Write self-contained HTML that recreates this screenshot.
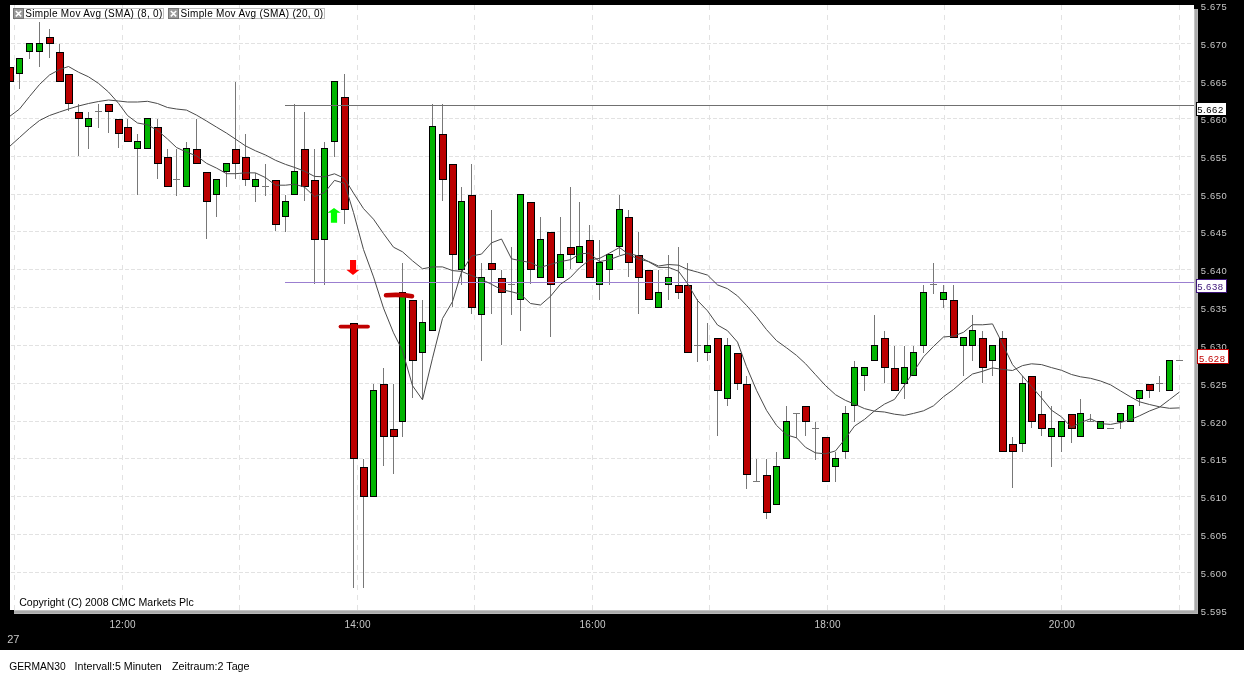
<!DOCTYPE html>
<html><head><meta charset="utf-8"><style>
html,body{margin:0;padding:0;background:#fff;width:1244px;height:675px;overflow:hidden}
svg{display:block;will-change:transform}
text{font-family:"Liberation Sans",sans-serif}
</style></head><body>
<svg width="1244" height="675" viewBox="0 0 1244 675">
<defs><clipPath id="cl"><rect x="10" y="5" width="1184" height="605"/></clipPath></defs>
<rect x="0" y="0" width="1244" height="650" fill="#000"/>
<g shape-rendering="crispEdges">
<rect x="1194" y="9" width="4" height="605" fill="#aaaaaa"/>
<rect x="14" y="610" width="1184" height="4" fill="#aaaaaa"/>
<rect x="1194" y="9" width="1" height="601" fill="#c4c4c4"/>
<rect x="14" y="610" width="1180" height="1" fill="#c4c4c4"/>
<rect x="1197" y="9" width="1" height="605" fill="#b8b8b8"/>
<rect x="14" y="613" width="1184" height="1" fill="#b8b8b8"/>
</g>
<rect x="10" y="5" width="1184" height="605" fill="#fff"/>
<g stroke="#e2e2e2" stroke-width="1" stroke-dasharray="4 2" shape-rendering="crispEdges"><line x1="11" y1="43.5" x2="1192" y2="43.5"/><line x1="11" y1="81.5" x2="1192" y2="81.5"/><line x1="11" y1="118.5" x2="1192" y2="118.5"/><line x1="11" y1="156.5" x2="1192" y2="156.5"/><line x1="11" y1="194.5" x2="1192" y2="194.5"/><line x1="11" y1="231.5" x2="1192" y2="231.5"/><line x1="11" y1="269.5" x2="1192" y2="269.5"/><line x1="11" y1="307.5" x2="1192" y2="307.5"/><line x1="11" y1="345.5" x2="1192" y2="345.5"/><line x1="11" y1="383.5" x2="1192" y2="383.5"/><line x1="11" y1="421.5" x2="1192" y2="421.5"/><line x1="11" y1="458.5" x2="1192" y2="458.5"/><line x1="11" y1="496.5" x2="1192" y2="496.5"/><line x1="11" y1="534.5" x2="1192" y2="534.5"/><line x1="11" y1="572.5" x2="1192" y2="572.5"/></g><g stroke="#e2e2e2" stroke-width="1" stroke-dasharray="5 5" shape-rendering="crispEdges"><line x1="14.5" y1="5" x2="14.5" y2="610"/><line x1="122.5" y1="5" x2="122.5" y2="610"/><line x1="239.5" y1="5" x2="239.5" y2="610"/><line x1="357.5" y1="5" x2="357.5" y2="610"/><line x1="474.5" y1="5" x2="474.5" y2="610"/><line x1="592.5" y1="5" x2="592.5" y2="610"/><line x1="709.5" y1="5" x2="709.5" y2="610"/><line x1="827.5" y1="5" x2="827.5" y2="610"/><line x1="944.5" y1="5" x2="944.5" y2="610"/><line x1="1061.5" y1="5" x2="1061.5" y2="610"/><line x1="1179.5" y1="5" x2="1179.5" y2="610"/></g><g shape-rendering="crispEdges" clip-path="url(#cl)"><rect x="6" y="67" width="8" height="15" fill="#000"/><rect x="7" y="68" width="6" height="13" fill="#bb0000"/><rect x="19" y="74" width="1" height="15" fill="#787878"/><rect x="16" y="58" width="7" height="16" fill="#000"/><rect x="17" y="59" width="5" height="14" fill="#00b400"/><rect x="29" y="52" width="1" height="7" fill="#787878"/><rect x="26" y="43" width="7" height="9" fill="#000"/><rect x="27" y="44" width="5" height="7" fill="#00b400"/><rect x="39" y="22" width="1" height="21" fill="#787878"/><rect x="39" y="52" width="1" height="15" fill="#787878"/><rect x="36" y="43" width="7" height="9" fill="#000"/><rect x="37" y="44" width="5" height="7" fill="#00b400"/><rect x="49" y="29" width="1" height="8" fill="#787878"/><rect x="49" y="44" width="1" height="14" fill="#787878"/><rect x="46" y="37" width="8" height="7" fill="#000"/><rect x="47" y="38" width="6" height="5" fill="#bb0000"/><rect x="59" y="44" width="1" height="8" fill="#787878"/><rect x="56" y="52" width="8" height="30" fill="#000"/><rect x="57" y="53" width="6" height="28" fill="#bb0000"/><rect x="68" y="104" width="1" height="7" fill="#787878"/><rect x="65" y="74" width="8" height="30" fill="#000"/><rect x="66" y="75" width="6" height="28" fill="#bb0000"/><rect x="78" y="104" width="1" height="8" fill="#787878"/><rect x="78" y="119" width="1" height="37" fill="#787878"/><rect x="75" y="112" width="8" height="7" fill="#000"/><rect x="76" y="113" width="6" height="5" fill="#bb0000"/><rect x="88" y="112" width="1" height="6" fill="#787878"/><rect x="88" y="127" width="1" height="22" fill="#787878"/><rect x="85" y="118" width="7" height="9" fill="#000"/><rect x="86" y="119" width="5" height="7" fill="#00b400"/><rect x="98" y="104" width="1" height="24" fill="#787878"/><rect x="95" y="111" width="7" height="1" fill="#787878"/><rect x="108" y="112" width="1" height="21" fill="#787878"/><rect x="105" y="104" width="8" height="8" fill="#000"/><rect x="106" y="105" width="6" height="6" fill="#bb0000"/><rect x="118" y="134" width="1" height="14" fill="#787878"/><rect x="115" y="119" width="8" height="15" fill="#000"/><rect x="116" y="120" width="6" height="13" fill="#bb0000"/><rect x="127" y="119" width="1" height="8" fill="#787878"/><rect x="124" y="127" width="8" height="15" fill="#000"/><rect x="125" y="128" width="6" height="13" fill="#bb0000"/><rect x="137" y="134" width="1" height="7" fill="#787878"/><rect x="137" y="149" width="1" height="46" fill="#787878"/><rect x="134" y="141" width="7" height="8" fill="#000"/><rect x="135" y="142" width="5" height="6" fill="#00b400"/><rect x="144" y="118" width="7" height="31" fill="#000"/><rect x="145" y="119" width="5" height="29" fill="#00b400"/><rect x="157" y="119" width="1" height="8" fill="#787878"/><rect x="157" y="164" width="1" height="15" fill="#787878"/><rect x="154" y="127" width="8" height="37" fill="#000"/><rect x="155" y="128" width="6" height="35" fill="#bb0000"/><rect x="167" y="149" width="1" height="8" fill="#787878"/><rect x="164" y="157" width="8" height="30" fill="#000"/><rect x="165" y="158" width="6" height="28" fill="#bb0000"/><rect x="176" y="149" width="1" height="47" fill="#787878"/><rect x="173" y="179" width="7" height="1" fill="#787878"/><rect x="186" y="142" width="1" height="6" fill="#787878"/><rect x="183" y="148" width="7" height="39" fill="#000"/><rect x="184" y="149" width="5" height="37" fill="#00b400"/><rect x="196" y="119" width="1" height="30" fill="#787878"/><rect x="193" y="149" width="8" height="15" fill="#000"/><rect x="194" y="150" width="6" height="13" fill="#bb0000"/><rect x="206" y="202" width="1" height="37" fill="#787878"/><rect x="203" y="172" width="8" height="30" fill="#000"/><rect x="204" y="173" width="6" height="28" fill="#bb0000"/><rect x="216" y="195" width="1" height="22" fill="#787878"/><rect x="213" y="179" width="7" height="16" fill="#000"/><rect x="214" y="180" width="5" height="14" fill="#00b400"/><rect x="226" y="172" width="1" height="15" fill="#787878"/><rect x="223" y="163" width="7" height="9" fill="#000"/><rect x="224" y="164" width="5" height="7" fill="#00b400"/><rect x="235" y="82" width="1" height="67" fill="#787878"/><rect x="235" y="164" width="1" height="15" fill="#787878"/><rect x="232" y="149" width="8" height="15" fill="#000"/><rect x="233" y="150" width="6" height="13" fill="#bb0000"/><rect x="245" y="134" width="1" height="23" fill="#787878"/><rect x="245" y="180" width="1" height="6" fill="#787878"/><rect x="242" y="157" width="8" height="23" fill="#000"/><rect x="243" y="158" width="6" height="21" fill="#bb0000"/><rect x="255" y="173" width="1" height="6" fill="#787878"/><rect x="255" y="187" width="1" height="15" fill="#787878"/><rect x="252" y="179" width="7" height="8" fill="#000"/><rect x="253" y="180" width="5" height="6" fill="#00b400"/><rect x="265" y="164" width="1" height="32" fill="#787878"/><rect x="262" y="186" width="7" height="1" fill="#787878"/><rect x="275" y="225" width="1" height="6" fill="#787878"/><rect x="272" y="180" width="8" height="45" fill="#000"/><rect x="273" y="181" width="6" height="43" fill="#bb0000"/><rect x="285" y="195" width="1" height="6" fill="#787878"/><rect x="285" y="217" width="1" height="15" fill="#787878"/><rect x="282" y="201" width="7" height="16" fill="#000"/><rect x="283" y="202" width="5" height="14" fill="#00b400"/><rect x="294" y="104" width="1" height="67" fill="#787878"/><rect x="291" y="171" width="7" height="24" fill="#000"/><rect x="292" y="172" width="5" height="22" fill="#00b400"/><rect x="304" y="112" width="1" height="37" fill="#787878"/><rect x="304" y="187" width="1" height="14" fill="#787878"/><rect x="301" y="149" width="8" height="38" fill="#000"/><rect x="302" y="150" width="6" height="36" fill="#bb0000"/><rect x="314" y="149" width="1" height="31" fill="#787878"/><rect x="314" y="240" width="1" height="44" fill="#787878"/><rect x="311" y="180" width="8" height="60" fill="#000"/><rect x="312" y="181" width="6" height="58" fill="#bb0000"/><rect x="324" y="142" width="1" height="6" fill="#787878"/><rect x="324" y="240" width="1" height="45" fill="#787878"/><rect x="321" y="148" width="7" height="92" fill="#000"/><rect x="322" y="149" width="5" height="90" fill="#00b400"/><rect x="334" y="142" width="1" height="15" fill="#787878"/><rect x="331" y="81" width="7" height="61" fill="#000"/><rect x="332" y="82" width="5" height="59" fill="#00b400"/><rect x="344" y="74" width="1" height="23" fill="#787878"/><rect x="344" y="210" width="1" height="14" fill="#787878"/><rect x="341" y="97" width="8" height="113" fill="#000"/><rect x="342" y="98" width="6" height="111" fill="#bb0000"/><rect x="353" y="459" width="1" height="129" fill="#787878"/><rect x="350" y="323" width="8" height="136" fill="#000"/><rect x="351" y="324" width="6" height="134" fill="#bb0000"/><rect x="363" y="459" width="1" height="8" fill="#787878"/><rect x="363" y="497" width="1" height="91" fill="#787878"/><rect x="360" y="467" width="8" height="30" fill="#000"/><rect x="361" y="468" width="6" height="28" fill="#bb0000"/><rect x="373" y="384" width="1" height="6" fill="#787878"/><rect x="370" y="390" width="7" height="107" fill="#000"/><rect x="371" y="391" width="5" height="105" fill="#00b400"/><rect x="383" y="368" width="1" height="16" fill="#787878"/><rect x="383" y="437" width="1" height="29" fill="#787878"/><rect x="380" y="384" width="8" height="53" fill="#000"/><rect x="381" y="385" width="6" height="51" fill="#bb0000"/><rect x="393" y="384" width="1" height="45" fill="#787878"/><rect x="393" y="437" width="1" height="37" fill="#787878"/><rect x="390" y="429" width="8" height="8" fill="#000"/><rect x="391" y="430" width="6" height="6" fill="#bb0000"/><rect x="402" y="263" width="1" height="29" fill="#787878"/><rect x="402" y="422" width="1" height="15" fill="#787878"/><rect x="399" y="292" width="7" height="130" fill="#000"/><rect x="400" y="293" width="5" height="128" fill="#00b400"/><rect x="412" y="361" width="1" height="37" fill="#787878"/><rect x="409" y="300" width="8" height="61" fill="#000"/><rect x="410" y="301" width="6" height="59" fill="#bb0000"/><rect x="422" y="300" width="1" height="22" fill="#787878"/><rect x="422" y="353" width="1" height="46" fill="#787878"/><rect x="419" y="322" width="7" height="31" fill="#000"/><rect x="420" y="323" width="5" height="29" fill="#00b400"/><rect x="432" y="104" width="1" height="22" fill="#787878"/><rect x="429" y="126" width="7" height="205" fill="#000"/><rect x="430" y="127" width="5" height="203" fill="#00b400"/><rect x="442" y="104" width="1" height="30" fill="#787878"/><rect x="442" y="180" width="1" height="21" fill="#787878"/><rect x="439" y="134" width="8" height="46" fill="#000"/><rect x="440" y="135" width="6" height="44" fill="#bb0000"/><rect x="452" y="255" width="1" height="52" fill="#787878"/><rect x="449" y="164" width="8" height="91" fill="#000"/><rect x="450" y="165" width="6" height="89" fill="#bb0000"/><rect x="461" y="187" width="1" height="14" fill="#787878"/><rect x="461" y="270" width="1" height="15" fill="#787878"/><rect x="458" y="201" width="7" height="69" fill="#000"/><rect x="459" y="202" width="5" height="67" fill="#00b400"/><rect x="471" y="164" width="1" height="31" fill="#787878"/><rect x="471" y="308" width="1" height="6" fill="#787878"/><rect x="468" y="195" width="8" height="113" fill="#000"/><rect x="469" y="196" width="6" height="111" fill="#bb0000"/><rect x="481" y="263" width="1" height="14" fill="#787878"/><rect x="481" y="315" width="1" height="46" fill="#787878"/><rect x="478" y="277" width="7" height="38" fill="#000"/><rect x="479" y="278" width="5" height="36" fill="#00b400"/><rect x="491" y="210" width="1" height="53" fill="#787878"/><rect x="491" y="270" width="1" height="44" fill="#787878"/><rect x="488" y="263" width="8" height="7" fill="#000"/><rect x="489" y="264" width="6" height="5" fill="#bb0000"/><rect x="501" y="270" width="1" height="8" fill="#787878"/><rect x="501" y="293" width="1" height="52" fill="#787878"/><rect x="498" y="278" width="8" height="15" fill="#000"/><rect x="499" y="279" width="6" height="13" fill="#bb0000"/><rect x="511" y="247" width="1" height="68" fill="#787878"/><rect x="508" y="284" width="7" height="1" fill="#787878"/><rect x="520" y="300" width="1" height="31" fill="#787878"/><rect x="517" y="194" width="7" height="106" fill="#000"/><rect x="518" y="195" width="5" height="104" fill="#00b400"/><rect x="530" y="270" width="1" height="14" fill="#787878"/><rect x="527" y="202" width="8" height="68" fill="#000"/><rect x="528" y="203" width="6" height="66" fill="#bb0000"/><rect x="540" y="217" width="1" height="22" fill="#787878"/><rect x="537" y="239" width="7" height="39" fill="#000"/><rect x="538" y="240" width="5" height="37" fill="#00b400"/><rect x="550" y="285" width="1" height="52" fill="#787878"/><rect x="547" y="232" width="8" height="53" fill="#000"/><rect x="548" y="233" width="6" height="51" fill="#bb0000"/><rect x="560" y="217" width="1" height="37" fill="#787878"/><rect x="557" y="254" width="7" height="24" fill="#000"/><rect x="558" y="255" width="5" height="22" fill="#00b400"/><rect x="570" y="187" width="1" height="60" fill="#787878"/><rect x="570" y="255" width="1" height="14" fill="#787878"/><rect x="567" y="247" width="8" height="8" fill="#000"/><rect x="568" y="248" width="6" height="6" fill="#bb0000"/><rect x="579" y="202" width="1" height="44" fill="#787878"/><rect x="576" y="246" width="7" height="17" fill="#000"/><rect x="577" y="247" width="5" height="15" fill="#00b400"/><rect x="589" y="225" width="1" height="15" fill="#787878"/><rect x="586" y="240" width="8" height="38" fill="#000"/><rect x="587" y="241" width="6" height="36" fill="#bb0000"/><rect x="599" y="240" width="1" height="22" fill="#787878"/><rect x="599" y="285" width="1" height="15" fill="#787878"/><rect x="596" y="262" width="7" height="23" fill="#000"/><rect x="597" y="263" width="5" height="21" fill="#00b400"/><rect x="609" y="270" width="1" height="15" fill="#787878"/><rect x="606" y="254" width="7" height="16" fill="#000"/><rect x="607" y="255" width="5" height="14" fill="#00b400"/><rect x="619" y="195" width="1" height="14" fill="#787878"/><rect x="619" y="247" width="1" height="8" fill="#787878"/><rect x="616" y="209" width="7" height="38" fill="#000"/><rect x="617" y="210" width="5" height="36" fill="#00b400"/><rect x="628" y="210" width="1" height="7" fill="#787878"/><rect x="628" y="263" width="1" height="14" fill="#787878"/><rect x="625" y="217" width="8" height="46" fill="#000"/><rect x="626" y="218" width="6" height="44" fill="#bb0000"/><rect x="638" y="232" width="1" height="23" fill="#787878"/><rect x="638" y="278" width="1" height="36" fill="#787878"/><rect x="635" y="255" width="8" height="23" fill="#000"/><rect x="636" y="256" width="6" height="21" fill="#bb0000"/><rect x="645" y="270" width="8" height="30" fill="#000"/><rect x="646" y="271" width="6" height="28" fill="#bb0000"/><rect x="658" y="270" width="1" height="22" fill="#787878"/><rect x="655" y="292" width="7" height="16" fill="#000"/><rect x="656" y="293" width="5" height="14" fill="#00b400"/><rect x="668" y="255" width="1" height="22" fill="#787878"/><rect x="668" y="285" width="1" height="15" fill="#787878"/><rect x="665" y="277" width="7" height="8" fill="#000"/><rect x="666" y="278" width="5" height="6" fill="#00b400"/><rect x="678" y="247" width="1" height="38" fill="#787878"/><rect x="678" y="293" width="1" height="6" fill="#787878"/><rect x="675" y="285" width="8" height="8" fill="#000"/><rect x="676" y="286" width="6" height="6" fill="#bb0000"/><rect x="687" y="263" width="1" height="22" fill="#787878"/><rect x="684" y="285" width="8" height="68" fill="#000"/><rect x="685" y="286" width="6" height="66" fill="#bb0000"/><rect x="697" y="299" width="1" height="63" fill="#787878"/><rect x="694" y="345" width="7" height="1" fill="#787878"/><rect x="707" y="323" width="1" height="22" fill="#787878"/><rect x="707" y="353" width="1" height="8" fill="#787878"/><rect x="704" y="345" width="7" height="8" fill="#000"/><rect x="705" y="346" width="5" height="6" fill="#00b400"/><rect x="717" y="391" width="1" height="45" fill="#787878"/><rect x="714" y="338" width="8" height="53" fill="#000"/><rect x="715" y="339" width="6" height="51" fill="#bb0000"/><rect x="727" y="338" width="1" height="7" fill="#787878"/><rect x="727" y="399" width="1" height="7" fill="#787878"/><rect x="724" y="345" width="7" height="54" fill="#000"/><rect x="725" y="346" width="5" height="52" fill="#00b400"/><rect x="737" y="384" width="1" height="6" fill="#787878"/><rect x="734" y="353" width="8" height="31" fill="#000"/><rect x="735" y="354" width="6" height="29" fill="#bb0000"/><rect x="746" y="376" width="1" height="8" fill="#787878"/><rect x="746" y="475" width="1" height="14" fill="#787878"/><rect x="743" y="384" width="8" height="91" fill="#000"/><rect x="744" y="385" width="6" height="89" fill="#bb0000"/><rect x="756" y="459" width="1" height="23" fill="#787878"/><rect x="753" y="481" width="7" height="1" fill="#787878"/><rect x="766" y="459" width="1" height="16" fill="#787878"/><rect x="766" y="513" width="1" height="6" fill="#787878"/><rect x="763" y="475" width="8" height="38" fill="#000"/><rect x="764" y="476" width="6" height="36" fill="#bb0000"/><rect x="776" y="452" width="1" height="14" fill="#787878"/><rect x="773" y="466" width="7" height="39" fill="#000"/><rect x="774" y="467" width="5" height="37" fill="#00b400"/><rect x="786" y="406" width="1" height="15" fill="#787878"/><rect x="783" y="421" width="7" height="38" fill="#000"/><rect x="784" y="422" width="5" height="36" fill="#00b400"/><rect x="796" y="413" width="1" height="25" fill="#787878"/><rect x="793" y="413" width="7" height="1" fill="#787878"/><rect x="805" y="422" width="1" height="14" fill="#787878"/><rect x="802" y="406" width="8" height="16" fill="#000"/><rect x="803" y="407" width="6" height="14" fill="#bb0000"/><rect x="815" y="422" width="1" height="38" fill="#787878"/><rect x="812" y="428" width="7" height="1" fill="#787878"/><rect x="822" y="437" width="8" height="45" fill="#000"/><rect x="823" y="438" width="6" height="43" fill="#bb0000"/><rect x="835" y="452" width="1" height="6" fill="#787878"/><rect x="835" y="467" width="1" height="15" fill="#787878"/><rect x="832" y="458" width="7" height="9" fill="#000"/><rect x="833" y="459" width="5" height="7" fill="#00b400"/><rect x="845" y="406" width="1" height="7" fill="#787878"/><rect x="845" y="452" width="1" height="7" fill="#787878"/><rect x="842" y="413" width="7" height="39" fill="#000"/><rect x="843" y="414" width="5" height="37" fill="#00b400"/><rect x="854" y="361" width="1" height="6" fill="#787878"/><rect x="854" y="406" width="1" height="16" fill="#787878"/><rect x="851" y="367" width="7" height="39" fill="#000"/><rect x="852" y="368" width="5" height="37" fill="#00b400"/><rect x="864" y="376" width="1" height="15" fill="#787878"/><rect x="861" y="367" width="7" height="9" fill="#000"/><rect x="862" y="368" width="5" height="7" fill="#00b400"/><rect x="874" y="315" width="1" height="30" fill="#787878"/><rect x="871" y="345" width="7" height="16" fill="#000"/><rect x="872" y="346" width="5" height="14" fill="#00b400"/><rect x="884" y="331" width="1" height="7" fill="#787878"/><rect x="884" y="368" width="1" height="15" fill="#787878"/><rect x="881" y="338" width="8" height="30" fill="#000"/><rect x="882" y="339" width="6" height="28" fill="#bb0000"/><rect x="894" y="346" width="1" height="22" fill="#787878"/><rect x="891" y="368" width="8" height="23" fill="#000"/><rect x="892" y="369" width="6" height="21" fill="#bb0000"/><rect x="904" y="346" width="1" height="21" fill="#787878"/><rect x="904" y="384" width="1" height="15" fill="#787878"/><rect x="901" y="367" width="7" height="17" fill="#000"/><rect x="902" y="368" width="5" height="15" fill="#00b400"/><rect x="913" y="346" width="1" height="6" fill="#787878"/><rect x="910" y="352" width="7" height="24" fill="#000"/><rect x="911" y="353" width="5" height="22" fill="#00b400"/><rect x="923" y="285" width="1" height="7" fill="#787878"/><rect x="923" y="346" width="1" height="7" fill="#787878"/><rect x="920" y="292" width="7" height="54" fill="#000"/><rect x="921" y="293" width="5" height="52" fill="#00b400"/><rect x="933" y="263" width="1" height="31" fill="#787878"/><rect x="930" y="284" width="7" height="1" fill="#787878"/><rect x="943" y="285" width="1" height="7" fill="#787878"/><rect x="943" y="300" width="1" height="8" fill="#787878"/><rect x="940" y="292" width="7" height="8" fill="#000"/><rect x="941" y="293" width="5" height="6" fill="#00b400"/><rect x="953" y="285" width="1" height="15" fill="#787878"/><rect x="950" y="300" width="8" height="38" fill="#000"/><rect x="951" y="301" width="6" height="36" fill="#bb0000"/><rect x="963" y="346" width="1" height="30" fill="#787878"/><rect x="960" y="337" width="7" height="9" fill="#000"/><rect x="961" y="338" width="5" height="7" fill="#00b400"/><rect x="972" y="315" width="1" height="15" fill="#787878"/><rect x="972" y="346" width="1" height="15" fill="#787878"/><rect x="969" y="330" width="7" height="16" fill="#000"/><rect x="970" y="331" width="5" height="14" fill="#00b400"/><rect x="982" y="331" width="1" height="7" fill="#787878"/><rect x="982" y="368" width="1" height="15" fill="#787878"/><rect x="979" y="338" width="8" height="30" fill="#000"/><rect x="980" y="339" width="6" height="28" fill="#bb0000"/><rect x="992" y="361" width="1" height="15" fill="#787878"/><rect x="989" y="345" width="7" height="16" fill="#000"/><rect x="990" y="346" width="5" height="14" fill="#00b400"/><rect x="1002" y="331" width="1" height="7" fill="#787878"/><rect x="999" y="338" width="8" height="114" fill="#000"/><rect x="1000" y="339" width="6" height="112" fill="#bb0000"/><rect x="1012" y="437" width="1" height="7" fill="#787878"/><rect x="1012" y="452" width="1" height="36" fill="#787878"/><rect x="1009" y="444" width="8" height="8" fill="#000"/><rect x="1010" y="445" width="6" height="6" fill="#bb0000"/><rect x="1022" y="376" width="1" height="7" fill="#787878"/><rect x="1022" y="444" width="1" height="8" fill="#787878"/><rect x="1019" y="383" width="7" height="61" fill="#000"/><rect x="1020" y="384" width="5" height="59" fill="#00b400"/><rect x="1031" y="422" width="1" height="6" fill="#787878"/><rect x="1028" y="376" width="8" height="46" fill="#000"/><rect x="1029" y="377" width="6" height="44" fill="#bb0000"/><rect x="1041" y="391" width="1" height="23" fill="#787878"/><rect x="1041" y="429" width="1" height="7" fill="#787878"/><rect x="1038" y="414" width="8" height="15" fill="#000"/><rect x="1039" y="415" width="6" height="13" fill="#bb0000"/><rect x="1051" y="406" width="1" height="22" fill="#787878"/><rect x="1051" y="437" width="1" height="30" fill="#787878"/><rect x="1048" y="428" width="7" height="9" fill="#000"/><rect x="1049" y="429" width="5" height="7" fill="#00b400"/><rect x="1061" y="437" width="1" height="15" fill="#787878"/><rect x="1058" y="421" width="7" height="16" fill="#000"/><rect x="1059" y="422" width="5" height="14" fill="#00b400"/><rect x="1071" y="429" width="1" height="14" fill="#787878"/><rect x="1068" y="414" width="8" height="15" fill="#000"/><rect x="1069" y="415" width="6" height="13" fill="#bb0000"/><rect x="1080" y="399" width="1" height="14" fill="#787878"/><rect x="1077" y="413" width="7" height="24" fill="#000"/><rect x="1078" y="414" width="5" height="22" fill="#00b400"/><rect x="1090" y="414" width="1" height="8" fill="#787878"/><rect x="1087" y="421" width="7" height="1" fill="#787878"/><rect x="1097" y="421" width="7" height="8" fill="#000"/><rect x="1098" y="422" width="5" height="6" fill="#00b400"/><rect x="1107" y="428" width="7" height="1" fill="#787878"/><rect x="1120" y="422" width="1" height="7" fill="#787878"/><rect x="1117" y="413" width="7" height="9" fill="#000"/><rect x="1118" y="414" width="5" height="7" fill="#00b400"/><rect x="1127" y="405" width="7" height="17" fill="#000"/><rect x="1128" y="406" width="5" height="15" fill="#00b400"/><rect x="1139" y="399" width="1" height="7" fill="#787878"/><rect x="1136" y="390" width="7" height="9" fill="#000"/><rect x="1137" y="391" width="5" height="7" fill="#00b400"/><rect x="1149" y="391" width="1" height="7" fill="#787878"/><rect x="1146" y="384" width="8" height="7" fill="#000"/><rect x="1147" y="385" width="6" height="5" fill="#bb0000"/><rect x="1159" y="376" width="1" height="16" fill="#787878"/><rect x="1156" y="383" width="7" height="1" fill="#787878"/><rect x="1166" y="360" width="7" height="31" fill="#000"/><rect x="1167" y="361" width="5" height="29" fill="#00b400"/><rect x="1176" y="360" width="7" height="1" fill="#787878"/></g><g shape-rendering="crispEdges"><rect x="285" y="105" width="909" height="1" fill="#707070"/><rect x="285" y="282" width="909" height="1" fill="#9b7fd0"/></g><g clip-path="url(#cl)"><polyline points="9.5,146.5 19.5,137.5 29.5,128.5 39.5,120.5 49.5,115.5 59.5,112.0 68.5,109.0 78.5,106.0 88.5,103.5 98.5,101.5 108.5,100.0 118.5,101.0 127.5,102.0 137.5,102.0 147.5,101.3 157.5,103.5 167.5,107.5 176.5,109.0 186.5,110.1 196.5,115.1 206.5,121.0 216.5,127.1 226.5,133.1 235.5,139.1 245.5,145.9 255.5,150.8 265.5,155.0 275.5,160.3 285.5,164.4 294.5,167.4 304.5,171.2 314.5,176.4 324.5,176.8 334.5,173.8 344.5,178.4 353.5,193.1 363.5,208.6 373.5,219.2 383.5,233.6 393.5,247.2 402.5,251.8 412.5,260.8 422.5,268.8 432.5,266.9 442.5,266.9 452.5,270.6 461.5,271.4 471.5,275.5 481.5,279.3 491.5,284.3 501.5,289.6 511.5,291.8 520.5,294.1 530.5,303.5 540.5,305.0 550.5,296.3 560.5,284.2 570.5,277.4 579.5,267.9 589.5,259.9 599.5,258.4 609.5,253.1 619.5,247.5 628.5,254.3 638.5,259.2 648.5,261.4 658.5,266.0 668.5,264.5 678.5,265.2 687.5,269.4 697.5,272.1 707.5,275.1 717.5,284.9 727.5,288.7 737.5,295.9 746.5,305.4 756.5,316.7 766.5,329.6 776.5,340.6 786.5,347.8 796.5,355.4 805.5,363.7 815.5,374.7 825.5,385.6 835.5,394.7 845.5,400.4 854.5,404.1 864.5,408.6 874.5,411.2 884.5,412.0 894.5,414.2 904.5,415.4 913.5,413.4 923.5,410.8 933.5,405.8 943.5,396.7 953.5,389.5 963.5,380.8 972.5,374.0 982.5,371.3 992.5,367.9 1002.5,369.4 1012.5,370.5 1022.5,365.6 1031.5,363.8 1041.5,364.6 1051.5,367.6 1061.5,370.3 1071.5,374.5 1080.5,376.8 1090.5,378.3 1100.5,381.0 1110.5,384.8 1120.5,390.9 1130.5,396.9 1139.5,401.8 1149.5,404.5 1159.5,406.8 1169.5,408.3 1179.5,407.9" fill="none" stroke="#4a4a4a" stroke-width="1"/><polyline points="9.5,116.5 19.5,109.0 29.5,96.5 39.5,84.5 49.5,75.0 59.5,69.5 68.5,66.5 78.5,72.2 88.5,76.8 98.5,83.4 108.5,92.0 118.5,103.3 127.5,115.5 137.5,123.0 147.5,124.8 157.5,130.4 167.5,139.0 176.5,147.5 186.5,152.1 196.5,155.8 206.5,163.3 216.5,168.1 226.5,173.7 235.5,173.7 245.5,172.8 255.5,172.9 265.5,177.6 275.5,185.2 285.5,185.2 294.5,184.2 304.5,187.1 314.5,196.6 324.5,192.7 334.5,180.4 344.5,183.3 353.5,212.6 363.5,249.5 373.5,276.9 383.5,308.1 393.5,332.8 402.5,350.8 412.5,385.7 422.5,399.8 432.5,358.2 442.5,318.5 452.5,301.6 461.5,272.1 471.5,256.0 481.5,254.1 491.5,242.8 501.5,239.0 511.5,258.8 520.5,260.7 530.5,262.6 540.5,267.3 550.5,264.4 560.5,261.6 570.5,259.7 579.5,253.9 589.5,253.1 599.5,261.6 609.5,259.7 619.5,255.9 628.5,253.2 638.5,256.1 648.5,261.7 658.5,267.4 668.5,267.4 678.5,271.2 687.5,283.5 697.5,300.5 707.5,310.8 717.5,325.0 727.5,330.7 737.5,342.1 746.5,366.7 756.5,390.3 766.5,410.3 776.5,425.4 786.5,434.9 796.5,437.8 805.5,447.3 815.5,452.9 825.5,453.8 835.5,450.9 845.5,438.4 854.5,426.1 864.5,419.4 874.5,410.9 884.5,404.1 894.5,399.4 904.5,385.1 913.5,371.9 923.5,356.8 933.5,346.4 943.5,337.0 953.5,336.1 963.5,332.3 972.5,324.7 982.5,324.8 992.5,323.9 1002.5,343.8 1012.5,364.6 1022.5,376.0 1031.5,386.5 1041.5,397.9 1051.5,410.2 1061.5,416.9 1071.5,427.4 1080.5,422.6 1090.5,418.8 1100.5,423.6 1110.5,424.4 1120.5,422.5 1130.5,419.6 1139.5,415.8 1149.5,411.0 1159.5,407.2 1169.5,399.6 1179.5,392.0" fill="none" stroke="#4a4a4a" stroke-width="1"/></g><path d="M334,207.9 L340.7,212.7 L337.1,212.7 L337.1,222.8 L330.9,222.8 L330.9,212.7 L327.4,212.7 Z" fill="#00ff00"/><path d="M350,260 L356.1,260 L356.1,269.8 L359.6,269.8 L353,274.9 L346.3,269.8 L350,269.8 Z" fill="#ff0000"/><line x1="340.5" y1="326.6" x2="368" y2="326.6" stroke="#c00000" stroke-width="3.8" stroke-linecap="round"/><path d="M386,295.3 C395,294.5 405,295 412,296.2" fill="none" stroke="#c00000" stroke-width="4.6" stroke-linecap="round"/>
<g font-size="9.4" fill="#c8c8c8">
<text x="1200.8" y="10.0" textLength="26" lengthAdjust="spacing">5.675</text><text x="1200.8" y="48.0" textLength="26" lengthAdjust="spacing">5.670</text><text x="1200.8" y="86.0" textLength="26" lengthAdjust="spacing">5.665</text><text x="1200.8" y="123.0" textLength="26" lengthAdjust="spacing">5.660</text><text x="1200.8" y="161.0" textLength="26" lengthAdjust="spacing">5.655</text><text x="1200.8" y="199.0" textLength="26" lengthAdjust="spacing">5.650</text><text x="1200.8" y="236.0" textLength="26" lengthAdjust="spacing">5.645</text><text x="1200.8" y="274.0" textLength="26" lengthAdjust="spacing">5.640</text><text x="1200.8" y="312.0" textLength="26" lengthAdjust="spacing">5.635</text><text x="1200.8" y="350.0" textLength="26" lengthAdjust="spacing">5.630</text><text x="1200.8" y="388.0" textLength="26" lengthAdjust="spacing">5.625</text><text x="1200.8" y="426.0" textLength="26" lengthAdjust="spacing">5.620</text><text x="1200.8" y="463.0" textLength="26" lengthAdjust="spacing">5.615</text><text x="1200.8" y="501.0" textLength="26" lengthAdjust="spacing">5.610</text><text x="1200.8" y="539.0" textLength="26" lengthAdjust="spacing">5.605</text><text x="1200.8" y="577.0" textLength="26" lengthAdjust="spacing">5.600</text><text x="1200.8" y="615.0" textLength="26" lengthAdjust="spacing">5.595</text>
</g>
<g font-size="10" fill="#c8c8c8" text-anchor="middle">
<text x="122.5" y="628" textLength="26" lengthAdjust="spacing">12:00</text><text x="357.5" y="628" textLength="26" lengthAdjust="spacing">14:00</text><text x="592.5" y="628" textLength="26" lengthAdjust="spacing">16:00</text><text x="827.5" y="628" textLength="26" lengthAdjust="spacing">18:00</text><text x="1061.8" y="628" textLength="26" lengthAdjust="spacing">20:00</text>
</g>
<text x="7.2" y="643" font-size="10" fill="#c8c8c8" textLength="12.3" lengthAdjust="spacingAndGlyphs">27</text>
<g shape-rendering="crispEdges">
<rect x="1196.5" y="102.5" width="30" height="13" fill="#fff" stroke="#000"/>
<rect x="1196.5" y="279.5" width="30" height="13" fill="#fff" stroke="#3c1478"/>
<rect x="1197.5" y="349.5" width="31" height="14" fill="#fff" stroke="#c00000"/>
</g>
<text x="1197.2" y="113" font-size="9.5" fill="#000" textLength="26" lengthAdjust="spacing">5.662</text>
<text x="1197.2" y="289.8" font-size="9.5" fill="#3c1478" textLength="25.8" lengthAdjust="spacing">5.638</text>
<text x="1199" y="362" font-size="9.5" fill="#c00000" textLength="26" lengthAdjust="spacing">5.628</text>
<text x="19.2" y="605.7" font-size="10.8" fill="#000" textLength="174.5" lengthAdjust="spacingAndGlyphs">Copyright (C) 2008 CMC Markets Plc</text>
<g shape-rendering="crispEdges">
<rect x="13.5" y="8.5" width="150" height="10" fill="#fff" stroke="#c0c0c0"/>
<rect x="13.5" y="8.5" width="10" height="10" fill="#9a9a9a" stroke="#747474"/>
<rect x="168.5" y="8.5" width="156" height="10" fill="#fff" stroke="#c0c0c0"/>
<rect x="168.5" y="8.5" width="10" height="10" fill="#9a9a9a" stroke="#747474"/>
</g>
<path d="M15.8,11 L21.2,16.4 M21.2,11 L15.8,16.4 M170.8,11 L176.2,16.4 M176.2,11 L170.8,16.4" stroke="#fff" stroke-width="1.5"/>
<text x="25.3" y="16.8" font-size="10" fill="#000" textLength="137" lengthAdjust="spacing">Simple Mov Avg (SMA) (8, 0)</text>
<text x="180.6" y="16.8" font-size="10" fill="#000" textLength="142.5" lengthAdjust="spacing">Simple Mov Avg (SMA) (20, 0)</text>
<text x="9.2" y="670" font-size="10.8" fill="#000" textLength="56.5" lengthAdjust="spacingAndGlyphs">GERMAN30</text>
<text x="74.6" y="670" font-size="10.8" fill="#000" textLength="87.2" lengthAdjust="spacingAndGlyphs">Intervall:5 Minuten</text>
<text x="172" y="670" font-size="10.8" fill="#000" textLength="77.6" lengthAdjust="spacingAndGlyphs">Zeitraum:2 Tage</text>
</svg>
</body></html>
